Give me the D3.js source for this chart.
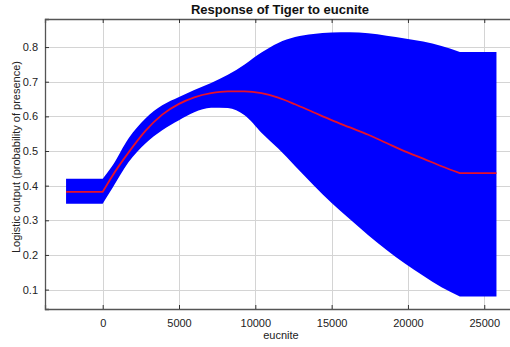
<!DOCTYPE html>
<html>
<head>
<meta charset="utf-8">
<script src="https://cdn.jsdelivr.net/npm/d3@7"></script>
<style>
  body { margin: 0; background: #fff; overflow: hidden; }
  svg { display: block; }
</style>
</head>
<body>
<div id="main"></div>
<script>
// Data
const xValues = [-2400, 0, 600, 1700, 2800, 3900, 5000, 6000, 7100, 8200, 9300, 10400,
  11500, 12600, 13800, 15000, 16200, 17400, 18600, 19800, 21000, 22200, 23400, 25800];
const meanValues = [0.382, 0.382, 0.426, 0.496, 0.558, 0.605, 0.636, 0.655, 0.667, 0.672, 0.672, 0.667,
  0.654, 0.635, 0.612, 0.589, 0.568, 0.547, 0.523, 0.499, 0.478, 0.456, 0.436, 0.436];
const upperValues = [0.420, 0.420, 0.455, 0.537, 0.594, 0.632, 0.656, 0.676, 0.696, 0.720, 0.750, 0.784,
  0.812, 0.829, 0.838, 0.842, 0.843, 0.840, 0.833, 0.825, 0.816, 0.803, 0.786, 0.786];
const lowerValues = [0.348, 0.348, 0.390, 0.468, 0.522, 0.560, 0.589, 0.612, 0.625, 0.624, 0.603, 0.553,
  0.507, 0.457, 0.402, 0.350, 0.303, 0.257, 0.214, 0.175, 0.140, 0.107, 0.080, 0.080];
const xTicks = [0, 5000, 10000, 15000, 20000, 25000];
const yTicks = [0.1, 0.2, 0.3, 0.4, 0.5, 0.6, 0.7, 0.8];

const width = 510, height = 347;
const margin = {top: 19, right: -6, bottom: 38, left: 45};

function main () {
  const svg = d3.create("svg")
    .attr("width", width)
    .attr("height", height)
    .attr("font-family", "'Liberation Sans', Arial, sans-serif");

  const x = d3.scaleLinear()
    .domain([-3780, 27080])
    .range([margin.left, width - margin.right]);
  const y = d3.scaleLinear()
    .domain([0.044, 0.881])
    .range([height - margin.bottom, margin.top]);

  const rows = xValues.map((v, i) => ({x: v, mean: meanValues[i], hi: upperValues[i], lo: lowerValues[i]}));
  // flat ends are drawn straight, the middle part smooth
  const first = rows[0], last = rows[rows.length - 1];
  const mid = rows.slice(1, -1);

  // grid
  const grid = svg.append("g").attr("stroke", "#d4d4d4").attr("stroke-width", 1);
  grid.selectAll(".gx").data(xTicks).join("line")
    .attr("x1", d => Math.round(x(d)) + 0.5).attr("x2", d => Math.round(x(d)) + 0.5)
    .attr("y1", y.range()[1]).attr("y2", y.range()[0]);
  grid.selectAll(".gy").data(yTicks).join("line")
    .attr("x1", x.range()[0]).attr("x2", x.range()[1])
    .attr("y1", d => Math.round(y(d)) + 0.5).attr("y2", d => Math.round(y(d)) + 0.5);

  const smooth = key => d3.line().curve(d3.curveMonotoneX).x(d => x(d.x)).y(d => y(d[key]));
  const cont = s => s.replace(/^M/, "L");

  // band
  const band = `M${x(first.x)},${y(first.hi)}`
    + cont(smooth("hi")(mid))
    + `L${x(last.x)},${y(last.hi)}L${x(last.x)},${y(last.lo)}`
    + cont(smooth("lo")(mid.slice().reverse()))
    + `L${x(first.x)},${y(first.lo)}Z`;
  svg.append("path")
    .attr("fill", "#0000ff")
    .attr("d", band);

  // mean response
  const meanPath = `M${x(first.x)},${y(first.mean)}`
    + cont(smooth("mean")(mid))
    + `L${x(last.x)},${y(last.mean)}`;
  svg.append("path")
    .attr("fill", "none")
    .attr("stroke", "#e8102a")
    .attr("stroke-width", 1.8)
    .attr("d", meanPath);

  // axes
  const axisColor = "#555";
  const xBottom = svg.append("g")
    .attr("transform", `translate(0,${y.range()[0]})`)
    .call(d3.axisBottom(x).tickValues(xTicks).tickSize(-4).tickPadding(10).tickFormat(d3.format("d")));
  const xTop = svg.append("g")
    .attr("transform", `translate(0,${y.range()[1]})`)
    .call(d3.axisTop(x).tickValues(xTicks).tickSize(-4).tickFormat(""));
  const yLeft = svg.append("g")
    .attr("transform", `translate(${x.range()[0]},0)`)
    .call(d3.axisLeft(y).tickValues(yTicks).tickSize(-4).tickPadding(7).tickFormat(d3.format(".1f")));

  for (const g of [xBottom, xTop, yLeft]) {
    g.select(".domain").attr("stroke", axisColor).attr("stroke-width", 1.3);
    g.selectAll(".tick line").attr("stroke", "#333");
    g.selectAll("text").attr("fill", "#222").attr("font-size", 11)
      .attr("font-family", "'Liberation Sans', Arial, sans-serif");
  }

  // texts
  svg.append("text")
    .attr("x", 280).attr("y", 14)
    .attr("text-anchor", "middle")
    .attr("font-size", 13).attr("font-weight", "bold")
    .attr("fill", "#111")
    .text("Response of Tiger to eucnite");
  svg.append("text")
    .attr("x", 281).attr("y", 339)
    .attr("text-anchor", "middle")
    .attr("font-size", 11).attr("fill", "#222")
    .text("eucnite");
  svg.append("text")
    .attr("transform", "translate(20,157) rotate(-90)")
    .attr("text-anchor", "middle")
    .attr("font-size", 11).attr("fill", "#222")
    .text("Logistic output (probability of presence)");

  return svg.node();
}

document.getElementById("main").appendChild(main());
</script>
</body>
</html>
